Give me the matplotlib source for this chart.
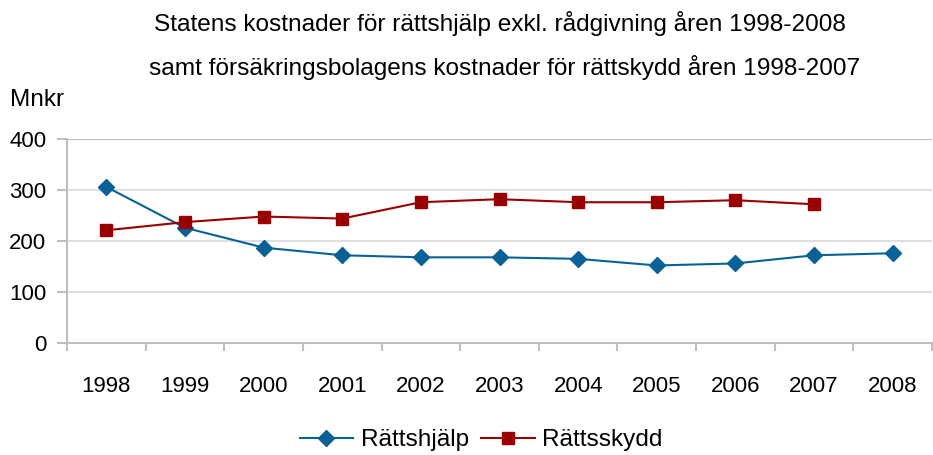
import numpy as np
import matplotlib
matplotlib.use('Agg')
import matplotlib.pyplot as plt

years = ['1998', '1999', '2000', '2001', '2002', '2003', '2004', '2005', '2006', '2007', '2008']
rattshjalp = [306, 226, 187, 172, 168, 168, 165, 152, 156, 172, 176]
rattsskydd = [221, 237, 248, 244, 276, 282, 276, 276, 280, 272]
yticks = [0, 100, 200, 300, 400]

plt.rcParams['font.family'] = ['Liberation Sans', 'DejaVu Sans']
fs_num = 16
fs_txt = 17.6

fig = plt.figure(figsize=(9.33, 4.55), dpi=100)
ax = fig.add_axes((67/933, 1-343/455, 865/933, 204/455))

x = np.arange(len(years))
ax.plot(x, rattshjalp, color='#0A6196', lw=1.5, marker='D', ms=8, label='Rättshjälp')
ax.plot(x[:len(rattsskydd)], rattsskydd, color='#990000', lw=1.5, marker='s', ms=9, label='Rättsskydd')

ax.set_xlim(-0.5, len(years)-0.5)
ax.set_ylim(0, 400)
ax.set_yticks(yticks)
ax.set_yticklabels([str(v) for v in yticks], fontsize=fs_num)
ax.set_xticks(x)
ax.set_xticklabels(years, fontsize=fs_num)
ax.set_xticks(np.arange(-0.5, len(years)), minor=True)
ax.tick_params(axis='x', which='major', length=0, pad=24)
ax.tick_params(axis='x', which='minor', length=6, color='#BFBFBF', width=1.5)
ax.tick_params(axis='y', length=7, color='#BFBFBF', width=1.5, pad=8)
ax.grid(axis='y', color='#D9D9D9', lw=1.2)
ax.set_axisbelow(True)
for s in ['top', 'right']:
    ax.spines[s].set_visible(False)
for s in ['left', 'bottom']:
    ax.spines[s].set_color('#BFBFBF')
    ax.spines[s].set_linewidth(1.5)
ax.axhline(400, color='#BFBFBF', lw=1.5)

fig.text(500/933, 1-23/455, 'Statens kostnader för rättshjälp exkl. rådgivning åren 1998-2008',
         ha='center', va='center', fontsize=fs_txt)
fig.text(505/933, 1-67/455, 'samt försäkringsbolagens kostnader för rättskydd åren 1998-2007',
         ha='center', va='center', fontsize=fs_txt)
fig.text(10/933, 1-100/455, 'Mnkr', ha='left', va='center', fontsize=fs_txt)

fig.legend(loc='center', bbox_to_anchor=(481/933, 1-440/455), ncol=2, frameon=False,
           fontsize=fs_txt, handlelength=2.2, columnspacing=0.5, handletextpad=0.3)

fig.savefig('out.png', dpi=100)
